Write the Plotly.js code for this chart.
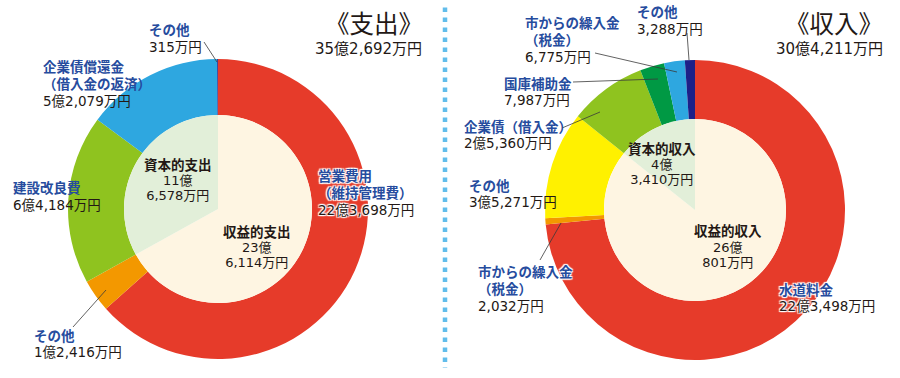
<!DOCTYPE html>
<html>
<head>
<meta charset="utf-8">
<script src="https://cdn.plot.ly/plotly-3.0.1.min.js"></script>
<style>html,body{margin:0;padding:0;background:#fff;}#chart{width:900px;height:378px;}</style>
</head>
<body>
<div id="chart"></div>
<script>
// ---- Data (万円) ----
const expOuterLabels = ['営業費用<br>（維持管理費）', 'その他', '建設改良費', '企業債償還金<br>（借入金の返済）', 'その他'];
const expOuterValues = [223698, 12416, 64184, 52079, 315];
const expInnerLabels = ['収益的支出', '資本的支出'];
const expInnerValues = [236114, 116578];

const incOuterLabels = ['水道料金', '市からの繰入金<br>（税金）', 'その他', '企業債（借入金）', '国庫補助金', '市からの繰入金<br>（税金）', 'その他'];
const incOuterValues = [223498, 2032, 35271, 25360, 7987, 6775, 3288];
const incInnerLabels = ['収益的収入', '資本的収入'];
const incInnerValues = [260801, 43410];

const expTitle = '《支出》';
const incTitle = '《収入》';

// ---- Styles ----
const expOuterColors = ['#E63B2A', '#F39800', '#8FC31F', '#2EA7E0', '#1D2088'];
const expInnerColors = ['#FEF5E2', '#E2EFD9'];
const incOuterColors = ['#E63B2A', '#F39800', '#FFF100', '#8FC31F', '#009944', '#2EA7E0', '#1D2088'];
const incInnerColors = ['#FEF5E2', '#E2EFD9'];

const W = 900, H = 378;
const BLUE = '#264C9E', BLACK = '#231815';
const JP = 'Noto Sans CJK JP';
const NUM = 'DejaVu Sans, Noto Sans CJK JP';

function comma(n) { return n.toString().replace(/\B(?=(\d{3})+(?!\d))/g, ','); }
function fmtParts(v) {
  const oku = Math.floor(v / 10000), man = v % 10000;
  return [oku > 0 ? oku + '億' : '', comma(man) + '万円'];
}
function fmt(v) { const p = fmtParts(v); return p[0] + p[1]; }
const sum = a => a.reduce((s, x) => s + x, 0);

function dom(cx, cy, r) {
  return { x: [(cx - r) / W, (cx + r) / W], y: [1 - (cy + r) / H, 1 - (cy - r) / H] };
}
function pie(values, labels, colors, cx, cy, r, hole) {
  return {
    type: 'pie', values: values,
    // unique keys so that equal names (その他 etc.) are not merged
    labels: labels.map((l, i) => i + ':' + l), text: labels,
    sort: false, direction: 'clockwise', rotation: 0,
    marker: { colors: colors, line: { width: 0 } }, textinfo: 'none', hoverinfo: 'skip',
    hole: hole || 0, domain: dom(cx, cy, r), showlegend: false
  };
}

const data = [
  pie(expOuterValues, expOuterLabels, expOuterColors, 218, 209, 150, 94 / 150),
  pie(expInnerValues, expInnerLabels, expInnerColors, 218, 209, 94),
  pie(incOuterValues, incOuterLabels, incOuterColors, 695, 210, 150, 91 / 150),
  pie(incInnerValues, incInnerLabels, incInnerColors, 695, 210, 91)
];

const annotations = [];
const halo = '1px 1px 1px #fff, -1px -1px 1px #fff, 1px -1px 1px #fff, -1px 1px 1px #fff, 0 0 2px #fff';
const LH = 1.3;
function ann(text, px, py, o) {
  o = o || {};
  annotations.push({
    xref: 'paper', yref: 'paper', x: px / W, y: 1 - py / H, text: text, showarrow: false,
    xanchor: o.anchor || 'left', yanchor: 'middle', align: o.align || 'left', borderpad: 0,
    font: { family: o.family || JP, size: o.size || 13.5, color: o.color || BLACK, weight: o.weight || 'normal', shadow: o.halo ? halo : 'none' }
  });
}
// outer label block: name lines (blue) then value (black); py = centre of first line, lh = line pitch
function block(label, value, px, py, lh, useHalo) {
  const lines = label.split('<br>');
  const parts = lines.map(t => '<span style="font-family:Noto Sans CJK JP;font-size:13.5px;color:' + BLUE + '"><b>' + t + '</b></span>');
  parts.push('<span style="font-size:13.5px">' + fmt(value) + '</span>');
  const n = parts.length;
  ann(parts.join('<br>'), px, py + (n - 1) * lh / 2, { family: NUM, size: lh / LH, halo: useHalo });
}
function inner(label, value, px, py, lh) {
  const p = fmtParts(value);
  const t = '<span style="font-family:Noto Sans CJK JP;font-size:13.5px"><b>' + label + '</b></span><br>' +
            '<span style="font-size:13px">' + p[0] + '</span><br><span style="font-size:13px">' + p[1] + '</span>';
  ann(t, px, py + lh, { anchor: 'center', align: 'center', family: NUM, size: lh / LH });
}

// left (支出)
block(expOuterLabels[4], expOuterValues[4], 148, 29, 17);
block(expOuterLabels[3], expOuterValues[3], 42, 66, 17);
block(expOuterLabels[2], expOuterValues[2], 12, 186, 17);
block(expOuterLabels[0], expOuterValues[0], 317, 174, 17, true);
block(expOuterLabels[1], expOuterValues[1], 33, 335, 15.5);
inner(expInnerLabels[1], expInnerValues[1], 178, 164, 15);
inner(expInnerLabels[0], expInnerValues[0], 257, 230, 15);
ann(expTitle, 424, 23, { anchor: 'right', size: 24.5 });
ann(fmt(sum(expOuterValues)), 423, 49, { anchor: 'right', family: NUM, size: 15 });

// right (収入)
block(incOuterLabels[6], incOuterValues[6], 636, 11, 16.5);
block(incOuterLabels[5], incOuterValues[5], 524, 22, 17);
block(incOuterLabels[4], incOuterValues[4], 503, 82, 16);
block(incOuterLabels[3], incOuterValues[3], 463, 126, 15.5);
block(incOuterLabels[2], incOuterValues[2], 468, 184, 16);
block(incOuterLabels[1], incOuterValues[1], 477, 270, 17, true);
block(incOuterLabels[0], incOuterValues[0], 778, 288, 16, true);
inner(incInnerLabels[1], incInnerValues[1], 662, 147, 15);
inner(incInnerLabels[0], incInnerValues[0], 728, 230, 15.5);
ann(incTitle, 884, 23, { anchor: 'right', size: 24.5 });
ann(fmt(sum(incOuterValues)), 884, 49, { anchor: 'right', family: NUM, size: 15 });

// leader lines & separator
function seg(x0, y0, x1, y1) {
  return { type: 'line', xref: 'paper', yref: 'paper', x0: x0 / W, y0: 1 - y0 / H, x1: x1 / W, y1: 1 - y1 / H,
           line: { color: '#3a3a3a', width: 0.8 }, layer: 'above' };
}
const shapes = [
  seg(204, 42, 217, 62),
  seg(73, 327, 106, 290),
  seg(687, 33, 689, 60),
  seg(595, 53, 677, 72),
  seg(573, 82, 658, 79),
  seg(562, 128, 600, 112),
  seg(540, 260, 561, 223),
  { type: 'line', xref: 'paper', yref: 'paper', x0: 445 / W, x1: 445 / W, y0: 1 - 7.5 / H, y1: 1 - 368 / H,
    line: { color: '#62BDEB', width: 4.5, dash: '4.5px,5.5px' } }
];

const layout = {
  width: W, height: H, margin: { l: 0, r: 0, t: 0, b: 0 },
  paper_bgcolor: '#ffffff', plot_bgcolor: '#ffffff', showlegend: false,
  annotations: annotations, shapes: shapes,
  font: { family: JP }
};
Plotly.newPlot('chart', data, layout, { displayModeBar: false, staticPlot: true });
</script>
</body>
</html>
